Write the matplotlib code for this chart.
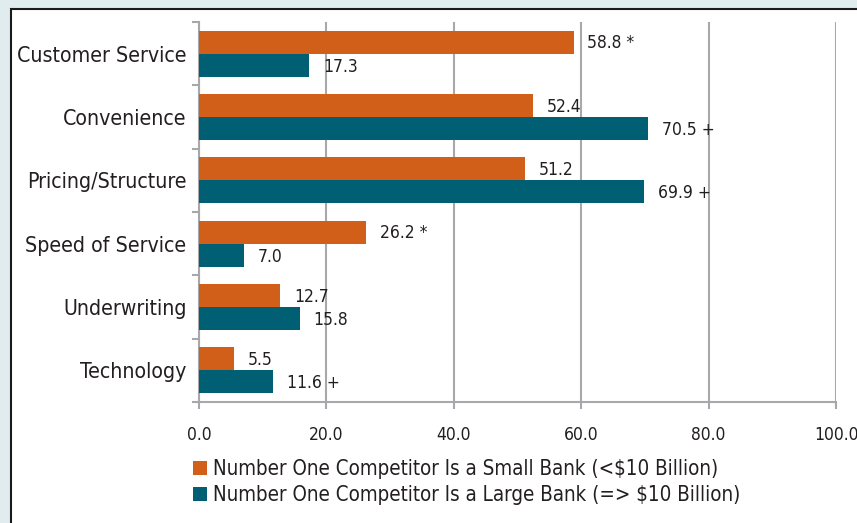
import numpy as np
import matplotlib.pyplot as plt
from matplotlib.patches import Rectangle, Patch
from matplotlib.ticker import FixedLocator

# ── data ─────────────────────────────────────────────────────────────────────
categories = ['Customer Service', 'Convenience', 'Pricing/Structure',
              'Speed of Service', 'Underwriting', 'Technology']
small_bank = [58.8, 52.4, 51.2, 26.2, 12.7, 5.5]
large_bank = [17.3, 70.5, 69.9, 7.0, 15.8, 11.6]
small_marks = [' *', '', '', ' *', '', '']
large_marks = ['', ' +', ' +', '', '', ' +']
series_names = ['Number One Competitor Is a Small Bank (<$10 Billion)',
                'Number One Competitor Is a Large Bank (=> $10 Billion)']
x_ticks = [0, 20, 40, 60, 80, 100]

ORANGE = '#D15E19'
TEAL = '#005F72'
GRID = '#A8A8AC'
TXT = '#231F20'

plt.rcParams['font.family'] = ['DejaVu Sans']
plt.rcParams['font.stretch'] = 'condensed'

fig = plt.figure(figsize=(8.57, 5.23), dpi=100)
fig.patch.set_facecolor('#E1ECEF')
panel = Rectangle((11/857, -0.1), 1.0, 1 - 9/523 + 0.1, transform=fig.transFigure,
                  facecolor='white', edgecolor='#1a1a1a', linewidth=1.5, zorder=-5)
fig.patches.append(panel)

ax = fig.add_axes([199/857, 1 - 402/523, (836 - 199)/857, (402 - 22)/523])
ax.set_facecolor('none')

n = len(categories)
y = np.arange(n)[::-1].astype(float)
h = 0.365
ax.barh(y + h/2, small_bank, height=h, color=ORANGE, zorder=3)
ax.barh(y - h/2, large_bank, height=h, color=TEAL, zorder=3)

for yi, v, m in zip(y, small_bank, small_marks):
    ax.annotate(f'{v:.1f}{m}', (v, yi + h/2), xytext=(10, -1), textcoords='offset points',
                ha='left', va='center', fontsize=12.5, color=TXT)
for yi, v, m in zip(y, large_bank, large_marks):
    ax.annotate(f'{v:.1f}{m}', (v, yi - h/2), xytext=(10, -1), textcoords='offset points',
                ha='left', va='center', fontsize=12.5, color=TXT)

ax.set_xlim(0, 100)
ax.set_ylim(-0.5, n - 0.5)
ax.set_xticks(x_ticks)
ax.set_xticklabels([f'{t:.1f}' for t in x_ticks])
ax.set_yticks(y)
ax.set_yticklabels(categories)
ax.yaxis.set_minor_locator(FixedLocator(np.arange(-0.5, n, 1.0)))

ax.grid(axis='x', color=GRID, linewidth=1.5, zorder=1)
for s in ['top', 'right']:
    ax.spines[s].set_visible(False)
for s in ['left', 'bottom']:
    ax.spines[s].set_color(GRID)
    ax.spines[s].set_linewidth(1.5)

ax.tick_params(axis='x', length=5, width=1.5, color=GRID, pad=12, labelsize=12.5, labelcolor=TXT)
ax.tick_params(axis='y', which='major', length=0, pad=9, labelsize=15.3, labelcolor=TXT)
ax.tick_params(axis='y', which='minor', length=5, width=1.5, color=GRID)

handles = [Patch(facecolor=ORANGE), Patch(facecolor=TEAL)]
fig.legend(handles, series_names, loc='upper left', bbox_to_anchor=(183/857, 1 - 449/523),
           frameon=False, fontsize=14.8, handlelength=0.65, handleheight=0.65,
           handletextpad=0.3, labelspacing=0.3, borderpad=0, labelcolor=TXT)

plt.savefig('out.png', dpi=100, facecolor=fig.get_facecolor())
